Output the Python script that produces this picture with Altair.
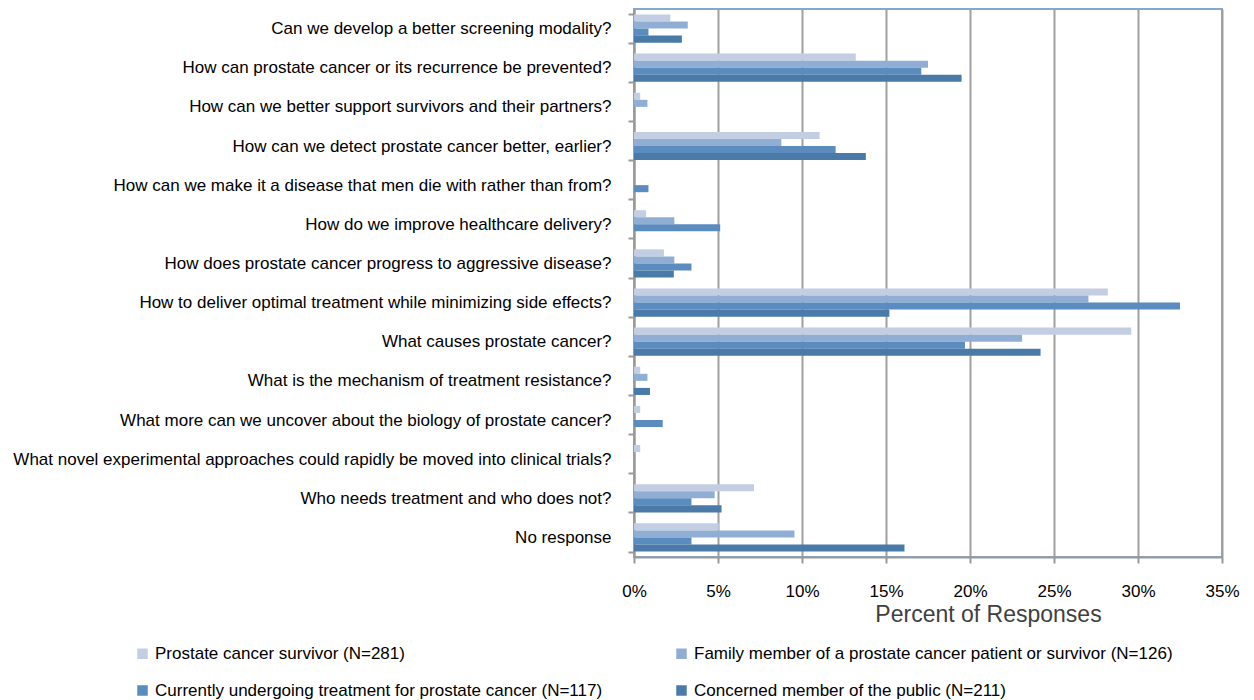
import altair as alt
import pandas as pd

categories = [
    "Can we develop a better screening modality?",
    "How can prostate cancer or its recurrence be prevented?",
    "How can we better support survivors and their partners?",
    "How can we detect prostate cancer better, earlier?",
    "How can we make it a disease that men die with rather than from?",
    "How do we improve healthcare delivery?",
    "How does prostate cancer progress to aggressive disease?",
    "How to deliver optimal treatment while minimizing side effects?",
    "What causes prostate cancer?",
    "What is the mechanism of treatment resistance?",
    "What more can we uncover about the biology of prostate cancer?",
    "What novel experimental approaches could rapidly be moved into clinical trials?",
    "Who needs treatment and who does not?",
    "No response",
]

series = [
    "Prostate cancer survivor (N=281)",
    "Family member of a prostate cancer patient or survivor (N=126)",
    "Currently undergoing treatment for prostate cancer (N=117)",
    "Concerned member of the public (N=211)",
]

survivor = [2.16, 13.2, 0.37, 11.05, 0.0, 0.72, 1.78, 28.2, 29.6, 0.37, 0.37, 0.37, 7.14, 5.04]
family = [3.2, 17.5, 0.8, 8.77, 0.0, 2.4, 2.4, 27.05, 23.1, 0.8, 0.0, 0.0, 4.8, 9.55]
treatment = [0.86, 17.1, 0.0, 12.0, 0.86, 5.13, 3.42, 32.5, 19.7, 0.0, 1.71, 0.0, 3.42, 3.42]
public = [2.85, 19.5, 0.0, 13.8, 0.0, 0.0, 2.37, 15.2, 24.2, 0.95, 0.0, 0.0, 5.21, 16.1]

colors = ["#C4CEE3", "#90AED4", "#5A8CC0", "#4A7AA7"]

rows = []
for s, vals in zip(series, [survivor, family, treatment, public]):
    for c, v in zip(categories, vals):
        rows.append({"question": c, "group": s, "pct": v / 100.0})
df = pd.DataFrame(rows)

FONT = "Liberation Sans"

chart = (
    alt.Chart(df)
    .mark_bar()
    .encode(
        x=alt.X(
            "pct:Q",
            scale=alt.Scale(domain=[0, 0.35], nice=False),
            axis=alt.Axis(
                format=".0%",
                values=[0, 0.05, 0.1, 0.15, 0.2, 0.25, 0.3, 0.35],
                title="Percent of Responses",
                titleFont=FONT,
                titleFontSize=23,
                titleFontWeight="normal",
                titleColor="#404040",
                titleX=354,
                titleY=57,
                titleBaseline="middle",
                labelFont=FONT,
                labelFontSize=17,
                labelColor="#000000",
                labelPadding=20,
                labelFlush=False,
                labelOverlap=False,
                tickSize=6,
                tickColor="#999999",
                tickWidth=2,
                domainColor="#999999",
                domainWidth=2,
                grid=True,
                gridColor="#A0A0A0",
                gridWidth=2,
            ),
        ),
        y=alt.Y(
            "question:N",
            sort=categories,
            scale=alt.Scale(paddingInner=0.28, paddingOuter=0.14),
            axis=alt.Axis(
                title=None,
                labelFont=FONT,
                labelFontSize=17,
                labelColor="#000000",
                labelLimit=700,
                labelPadding=17,
                tickSize=6,
                tickColor="#999999",
                tickWidth=2,
                tickBand="extent",
                domainColor="#999999",
                domainWidth=2,
                grid=False,
            ),
        ),
        yOffset=alt.YOffset("group:N", sort=series),
        color=alt.Color(
            "group:N",
            sort=series,
            scale=alt.Scale(domain=series, range=colors),
            legend=alt.Legend(
                title=None,
                orient="none",
                legendX=-500,
                legendY=636,
                columns=2,
                direction="horizontal",
                symbolType="square",
                symbolSize=110,
                symbolStrokeWidth=0,
                labelFont=FONT,
                labelFontSize=17,
                labelColor="#000000",
                labelLimit=700,
                columnPadding=70,
                rowPadding=19,
            ),
        ),
    )
    .properties(
        width=588,
        height=548,
        autosize=alt.AutoSizeParams(type="none"),
        padding={"left": 634, "top": 9, "right": 32, "bottom": 143},
    )
    .configure_view(stroke="#86A8CE", strokeWidth=2)
)

chart.save("out.html", embed_options={"renderer": "svg", "actions": False})
